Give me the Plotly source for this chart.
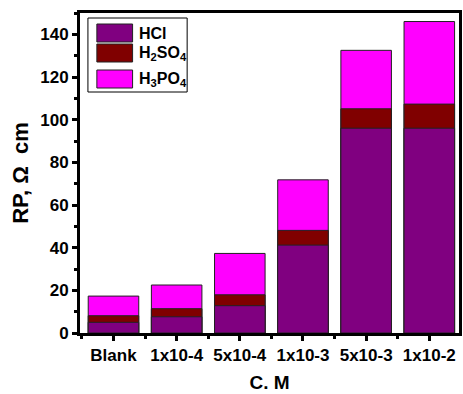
import plotly.graph_objects as go

# Polarization resistance (Ohm cm) per acid at each inhibitor concentration
categories = ["Blank", "1x10-4", "5x10-4", "1x10-3", "5x10-3", "1x10-2"]
rp_hcl = [5.0, 7.6, 12.8, 41.2, 96.0, 96.0]
rp_h2so4 = [8.1, 11.4, 17.9, 48.1, 105.1, 107.3]
rp_h3po4 = [17.3, 22.5, 37.3, 71.8, 132.5, 146.0]
y_ticks = [0, 20, 40, 60, 80, 100, 120, 140]

series_names = ["HCl", "H<sub>2</sub>SO<sub>4</sub>", "H<sub>3</sub>PO<sub>4</sub>"]
series_colors = ["#800080", "#800000", "#FF00FF"]

x_idx = list(range(len(categories)))
fig = go.Figure()
# overlapped columns: largest drawn at the back
for vals, col in [(rp_h3po4, series_colors[2]), (rp_h2so4, series_colors[1]), (rp_hcl, series_colors[0])]:
    fig.add_trace(go.Bar(x=x_idx, y=vals, width=0.8, marker=dict(color=col, line=dict(color="#222222", width=1)),
                         showlegend=False))

font_main = "Liberation Sans, Arial, sans-serif"

fig.update_layout(
    barmode="overlay",
    width=463, height=394,
    margin=dict(l=80, r=1, t=13, b=61),
    paper_bgcolor="white", plot_bgcolor="white",
    font=dict(family=font_main, color="black", weight="bold"),
    xaxis=dict(
        range=[-0.53, 5.47], tickmode="array", tickvals=x_idx, ticktext=categories,
        ticks="outside", ticklen=5, tickwidth=2.5, tickcolor="black",
        minor=dict(tickmode="array", tickvals=[i + 0.5 for i in x_idx[:-1]] + [-0.5], ticks="outside", ticklen=3, tickwidth=2.5, tickcolor="black"),
        showline=True, linewidth=3, linecolor="black", mirror=True, showgrid=False, zeroline=False,
        tickfont=dict(size=17, family=font_main, weight="bold"),
        title=dict(text="C. M", font=dict(size=19, family=font_main, weight="bold"), standoff=12),
    ),
    yaxis=dict(
        range=[0, 150], tickmode="array", tickvals=y_ticks, ticktext=[str(v) for v in y_ticks],
        ticks="outside", ticklen=5, tickwidth=2.5, tickcolor="black",
        minor=dict(dtick=10, ticks="outside", ticklen=3, tickwidth=2.5, tickcolor="black"),
        showline=True, linewidth=3, linecolor="black", mirror=True, showgrid=False, zeroline=False,
        tickfont=dict(size=17, family=font_main, weight="bold"),
        title=dict(text="RP, Ω  cm", font=dict(size=22, family=font_main, weight="bold"), standoff=6),
    ),
)

# legend box with swatches
fig.add_shape(type="rect", xref="paper", yref="paper", x0=(88 - 80) / 382, x1=(188 - 80) / 382,
              y0=(333 - 92) / 320, y1=(333 - 18) / 320, line=dict(color="black", width=1), fillcolor="white")
rows = [(24, 42), (44, 62), (70, 88)]
for name, col, (ya, yb) in zip(series_names, series_colors, rows):
    fig.add_shape(type="rect", xref="paper", yref="paper", x0=(97 - 80) / 382, x1=(133 - 80) / 382,
                  y0=(333 - yb) / 320, y1=(333 - ya) / 320, line=dict(color="#222222", width=1), fillcolor=col)
    fig.add_annotation(xref="paper", yref="paper", x=(137 - 80) / 382, y=(333 - (ya + yb) / 2) / 320,
                       text=name, showarrow=False, xanchor="left", yanchor="middle",
                       font=dict(size=16, family=font_main, color="black", weight="bold"))

fig.write_html("out.html")
